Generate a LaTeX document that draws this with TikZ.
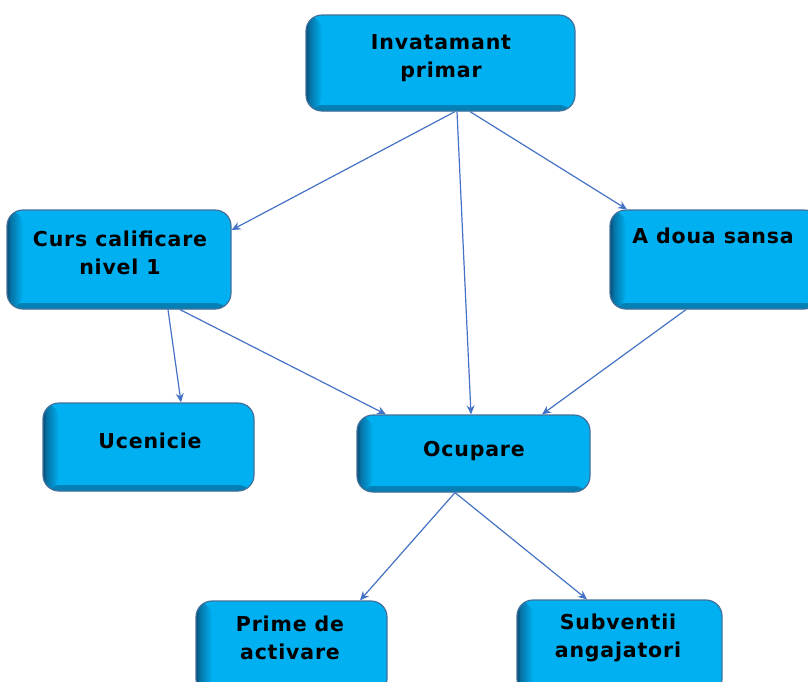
\documentclass[tikz,border=0pt]{standalone}
\usepackage{fontspec}
\setmainfont[LetterSpace=4]{DejaVu Sans}
\usetikzlibrary{arrows.meta}
\definecolor{boxfill}{HTML}{00B0F0}
\definecolor{boxshade}{HTML}{0A3F66}
\definecolor{boxline}{HTML}{41719C}
\definecolor{arrowcol}{HTML}{4472C4}
\pgfdeclarehorizontalshading{leftshade}{100bp}{color(0bp)=(boxshade); color(25bp)=(boxshade); color(38bp)=(boxshade!55!boxfill); color(75bp)=(boxfill); color(100bp)=(boxfill)}
\pgfdeclareverticalshading{bottomshade}{100bp}{color(0bp)=(boxshade!45!boxfill); color(25bp)=(boxshade!45!boxfill); color(75bp)=(boxfill); color(100bp)=(boxfill)}
\begin{document}
\begin{tikzpicture}[x=1pt,y=-1pt,
  box/.style={draw=boxline, line width=1.2pt, rounded corners=16pt, fill=boxfill, inner sep=0pt,
    path picture={
      \shade[shading=bottomshade]
        ([yshift=-1pt]path picture bounding box.south west) rectangle ([yshift=6pt]path picture bounding box.south east);
      \shade[shading=leftshade]
        ([xshift=-1pt]path picture bounding box.south west) rectangle ([xshift=16pt]path picture bounding box.north west);
    }},
  txt/.style={font=\fontsize{20.5}{28}\selectfont\bfseries, align=center, inner sep=0pt, anchor=base},
  conn/.style={draw=arrowcol, line width=1.2pt, -{Stealth[length=9pt,width=8pt]}}
]
\useasboundingbox (0,0) rectangle (808,681);
\node[box, minimum width=269pt, minimum height=96pt] (inv) at (440.5,63) {};
\node[box, minimum width=224pt, minimum height=99pt] (curs) at (119,259.5) {};
\node[box, minimum width=210pt, minimum height=99pt] (sansa) at (715,259.5) {};
\node[box, minimum width=211pt, minimum height=88pt] (ucen) at (148.5,447) {};
\node[box, minimum width=233pt, minimum height=77pt] (ocup) at (473.5,453.5) {};
\node[box, minimum width=191pt, minimum height=94pt] (prime) at (291.5,648) {};
\node[box, minimum width=205pt, minimum height=95pt] (subv) at (619.5,647.5) {};

\node[txt] (tinv) at (441,77.5) {Invatamant\\primar};
\node[txt] (tcurs) at (120,274.5) {Curs calificare\\nivel 1};
\node[txt] (tsansa) at (713,243.5) {A doua sansa};
\node[txt] (tucen) at (150,448.5) {Ucenicie};
\node[txt] (tocup) at (474,456.5) {Ocupare};
\node[txt] (tprime) at (290,659) {Prime de\\activare};
\node[txt] (tsubv) at (618,657) {Subventii\\angajatori};

\draw[conn] ([xshift=14.5pt]inv.south) -- ([yshift=29.5pt]curs.east);
\draw[conn] ([xshift=16.5pt]inv.south) -- ([xshift=-2.5pt]ocup.north);
\draw[conn] ([xshift=29.5pt]inv.south) -- ([xshift=-88pt]sansa.north);
\draw[conn] ([xshift=49pt]curs.south) -- ([xshift=32.5pt]ucen.north);
\draw[conn] ([xshift=61pt]curs.south) -- ([xshift=-87.5pt]ocup.north);
\draw[conn] ([xshift=-29pt]sansa.south) -- ([xshift=68.5pt]ocup.north);
\draw[conn] ([xshift=-18.5pt]ocup.south) -- ([xshift=68.5pt]prime.north);
\draw[conn] ([xshift=-18.5pt]ocup.south) -- ([xshift=-32.5pt]subv.north);
\end{tikzpicture}
\end{document}
